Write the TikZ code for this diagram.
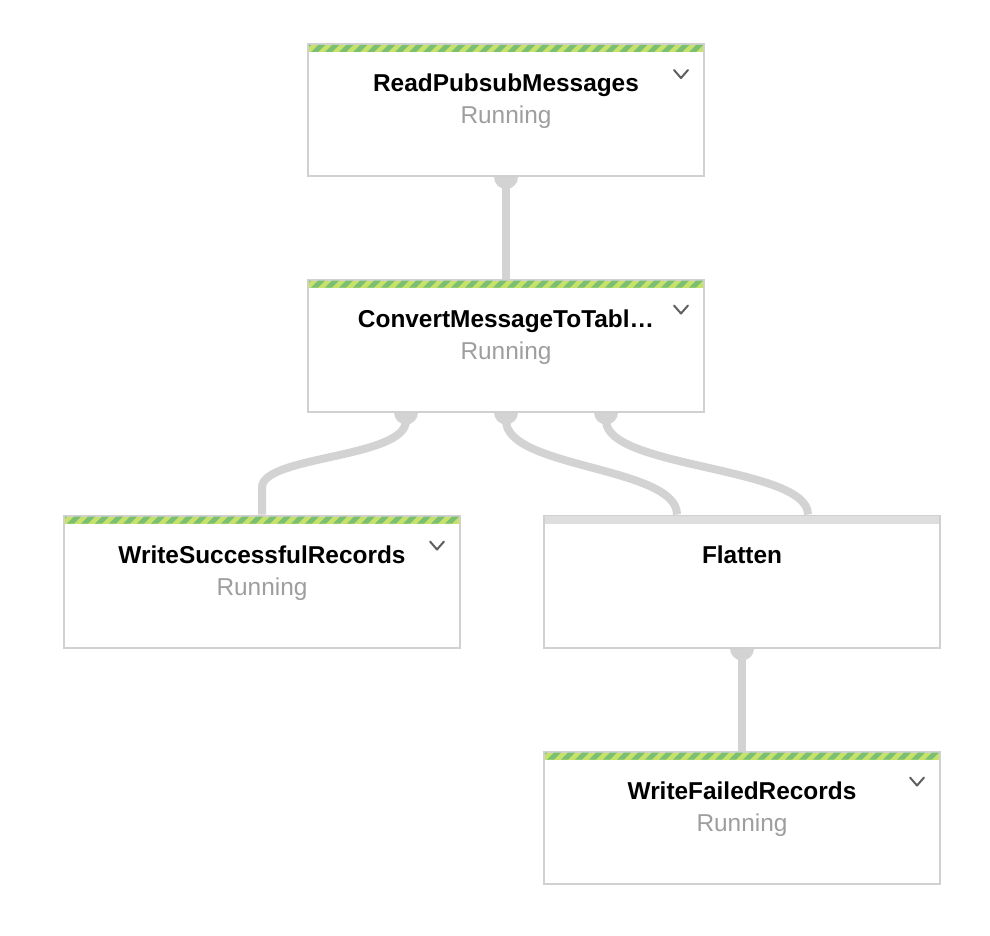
\documentclass[tikz,border=0pt]{standalone}
\usepackage{fontspec}
\setmainfont{Liberation Sans}
\usetikzlibrary{calc}
\pgfdeclarelayer{background}
\pgfsetlayers{background,main}
\definecolor{boxline}{HTML}{D0D0D0}
\definecolor{connline}{HTML}{D3D3D3}
\definecolor{stlight}{HTML}{C7E26B}
\definecolor{stdark}{HTML}{7BBF72}
\definecolor{runcol}{HTML}{9E9E9E}
\definecolor{chevcol}{HTML}{5F5F5F}
\definecolor{bandcol}{HTML}{DEDEDE}
\tikzset{
  stepbox/.style={draw=boxline, line width=2pt, fill=white, rectangle,
    minimum width=396pt, minimum height=132pt, inner sep=0pt},
  titletext/.style={anchor=base, inner sep=0pt, font=\fontsize{24.4}{28}\selectfont\bfseries, text=black},
  runtext/.style={anchor=base, inner sep=0pt, font=\fontsize{24.4}{28}\selectfont, text=runcol},
  conn/.style={draw=connline, line width=8pt},
  portdot/.style={fill=connline},
  chev/.style={draw=chevcol, line width=2pt, line cap=round, line join=round}
}
\newcommand\greenbar[1]{%
  \begin{scope}
    \clip ([xshift=2pt,yshift=-2pt]#1.north west) rectangle ([xshift=-2pt,yshift=-9pt]#1.north east);
    \fill[stlight] ([yshift=-2pt]#1.north west) rectangle ([yshift=-9pt]#1.north east);
    \foreach \i in {0,...,30}{
      \fill[stdark] ([xshift={(\i*14-10)*1pt}, yshift=-9pt]#1.north west) -- ++(7,0) -- ++(7,-7) -- ++(-7,0) -- cycle;
    }
  \end{scope}}
\newcommand\chevmark[1]{%
  \draw[chev] ([xshift=168pt,yshift=-27pt]#1.north) -- ++(7,8) -- ++(7,-8);}
\begin{document}
\begin{tikzpicture}[x=1pt,y=-1pt]
  \useasboundingbox (0,0) rectangle (990,936);
  % boxes
  \node[stepbox] (b1) at (506,110) {};
  \node[stepbox] (b2) at (506,345.5) {};
  \node[stepbox] (b3) at (262,581.5) {};
  \node[stepbox] (b4) at (742,581.5) {};
  \node[stepbox] (b5) at (742,817.5) {};
  % stripes
  \greenbar{b1}
  \greenbar{b2}
  \greenbar{b3}
  \greenbar{b5}
  \fill[bandcol] ([xshift=2pt,yshift=-1pt]b4.north west) rectangle ([xshift=-2pt,yshift=-9pt]b4.north east);
  % texts
  \node[titletext] (t1) at ([yshift=-49pt]b1.north) {ReadPubsubMessages};
  \node[runtext] (r1) at ([yshift=-81pt]b1.north) {Running};
  \node[titletext] (t2) at ([yshift=-49pt]b2.north) {ConvertMessageToTabl…};
  \node[runtext] (r2) at ([yshift=-81pt]b2.north) {Running};
  \node[titletext] (t3) at ([yshift=-49pt]b3.north) {WriteSuccessfulRecords};
  \node[runtext] (r3) at ([yshift=-81pt]b3.north) {Running};
  \node[titletext] (t4) at ([yshift=-49pt]b4.north) {Flatten};
  \node[titletext] (t5) at ([yshift=-49pt]b5.north) {WriteFailedRecords};
  \node[runtext] (r5) at ([yshift=-81pt]b5.north) {Running};
  % chevrons
  \chevmark{b1}
  \chevmark{b2}
  \chevmark{b3}
  \chevmark{b5}
  % connectors
  \begin{pgfonlayer}{background}
    \fill[portdot] (b1.south) circle[radius=12];
    \draw[conn] (b1.south) -- (b2.north);
    \fill[portdot] ([xshift=-100pt]b2.south) circle[radius=12];
    \fill[portdot] (b2.south) circle[radius=12];
    \fill[portdot] ([xshift=100pt]b2.south) circle[radius=12];
    \draw[conn] ([xshift=-100pt]b2.south) -- ++(0,8) .. controls +(0,38) and +(0,-32) .. ([yshift=27pt]b3.north) -- (b3.north);
    \draw[conn] (b2.south) -- ++(0,8) .. controls +(0,48) and +(0,-48) .. ([xshift=-65pt]b4.north);
    \draw[conn] ([xshift=100pt]b2.south) -- ++(0,8) .. controls +(0,48) and +(0,-48) .. ([xshift=66pt]b4.north);
    \fill[portdot] (b4.south) circle[radius=12];
    \draw[conn] (b4.south) -- (b5.north);
  \end{pgfonlayer}
\end{tikzpicture}
\end{document}
